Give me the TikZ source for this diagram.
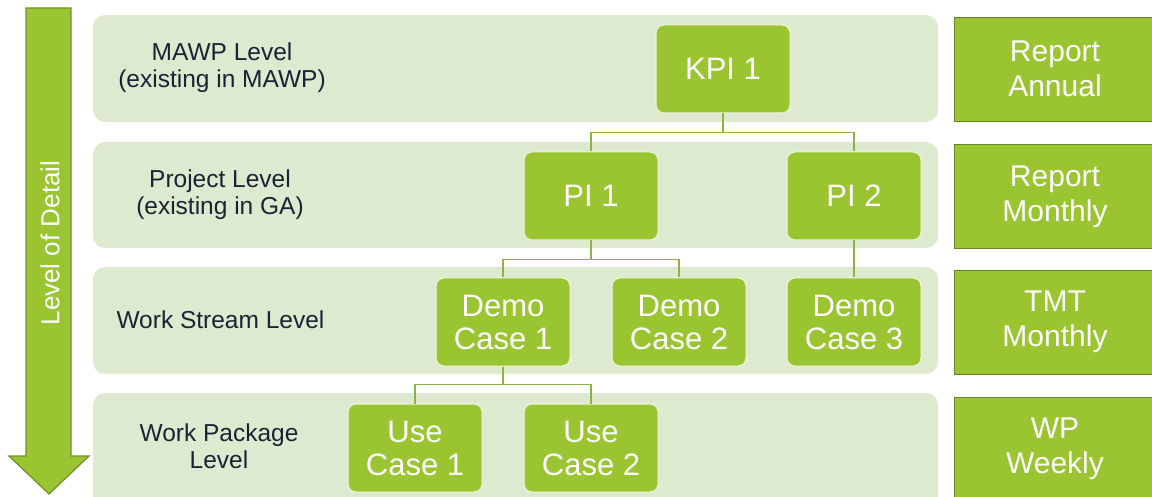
\documentclass[tikz,border=0pt]{standalone}
\usepackage{fontspec}
\setmainfont{Liberation Sans}
\definecolor{band}{RGB}{222,234,207}
\definecolor{leaf}{RGB}{154,197,49}
\definecolor{leafdark}{RGB}{104,130,42}
\definecolor{wire}{RGB}{140,180,64}
\definecolor{labeltext}{RGB}{26,34,52}
\begin{document}
\begin{tikzpicture}[x=1pt,y=-1pt,
  bandbox/.style={fill=band, rounded corners=12pt},
  treebox/.style={rectangle, rounded corners=8pt, fill=leaf, draw=white!85!leaf,
    line width=1pt, minimum width=134pt, minimum height=88pt, inner sep=0pt,
    text=white, align=center, font=\fontsize{31}{33}\selectfont},
  sidebox/.style={rectangle, fill=leaf, draw=leafdark, line width=1.2pt,
    minimum width=205pt, minimum height=104pt, inner sep=0pt},
  sidetext/.style={text=white, align=center, font=\fontsize{30}{35}\selectfont},
  leveltext/.style={text=labeltext, align=center, font=\fontsize{24.5}{27}\selectfont},
  wirestyle/.style={draw=wire, line width=1.5pt}
]
\useasboundingbox (0,0) rectangle (1152,497);

% horizontal level bands
\fill[bandbox] (93,15) rectangle (938,122);
\fill[bandbox] (93,142) rectangle (938,248);
\fill[bandbox] (93,267) rectangle (938,374);
\fill[bandbox] (93,393) rectangle (938,520);

% downward arrow along the left edge
\path[fill=leaf, draw=leafdark!80!leaf, line width=1.2pt]
  (26,8) -- (71,8) -- (71,456) -- (89,456) -- (49,494) -- (9,456) -- (26,456) -- cycle;
\node[rotate=90, text=white, font=\fontsize{26}{28}\selectfont] (detail) at (50,243) {Level of Detail};

% level names
\node[leveltext] (lvA) at (222,68) {MAWP Level\\(existing in MAWP)};
\node[leveltext] (lvB) at (220,195) {Project Level\\(existing in GA)};
\node[leveltext, anchor=west] (lvC) at (113,320) {Work Stream Level};
\node[leveltext] (lvD) at (219,446) {Work Package\\Level};

% indicator tree
\node[treebox] (kpi) at (723,69) {KPI 1};
\node[treebox] (pi1) at (591,196) {PI 1};
\node[treebox] (pi2) at (854,196) {PI 2};
\node[treebox] (dc1) at (503,322) {Demo\\Case 1};
\node[treebox] (dc2) at (679,322) {Demo\\Case 2};
\node[treebox] (dc3) at (854,322) {Demo\\Case 3};
\node[treebox] (uc1) at (415,448) {Use\\Case 1};
\node[treebox] (uc2) at (591,448) {Use\\Case 2};

\draw[wirestyle] (kpi.south) -- ++(0,19) -| (pi1.north);
\draw[wirestyle] (kpi.south) -- ++(0,19) -| (pi2.north);
\draw[wirestyle] (pi1.south) -- ++(0,19) -| (dc1.north);
\draw[wirestyle] (pi1.south) -- ++(0,19) -| (dc2.north);
\draw[wirestyle] (pi2.south) -- (dc3.north);
\draw[wirestyle] (dc1.south) -- ++(0,18) -| (uc1.north);
\draw[wirestyle] (dc1.south) -- ++(0,18) -| (uc2.north);

% reporting cadence boxes
\node[sidebox, anchor=north west] (rA) at (954,17) {};
\node[sidetext] at (1055,69) {Report\\Annual};
\node[sidebox, anchor=north west] (rB) at (954,144) {};
\node[sidetext] at (1055,197) {Report\\Monthly};
\node[sidebox, anchor=north west] (rC) at (954,270) {};
\node[sidetext] at (1055,322) {TMT\\Monthly};
\node[sidebox, anchor=north west, minimum height=120pt] (rD) at (954,397) {};
\node[sidetext] at (1055,449) {WP\\Weekly};
\end{tikzpicture}
\end{document}
